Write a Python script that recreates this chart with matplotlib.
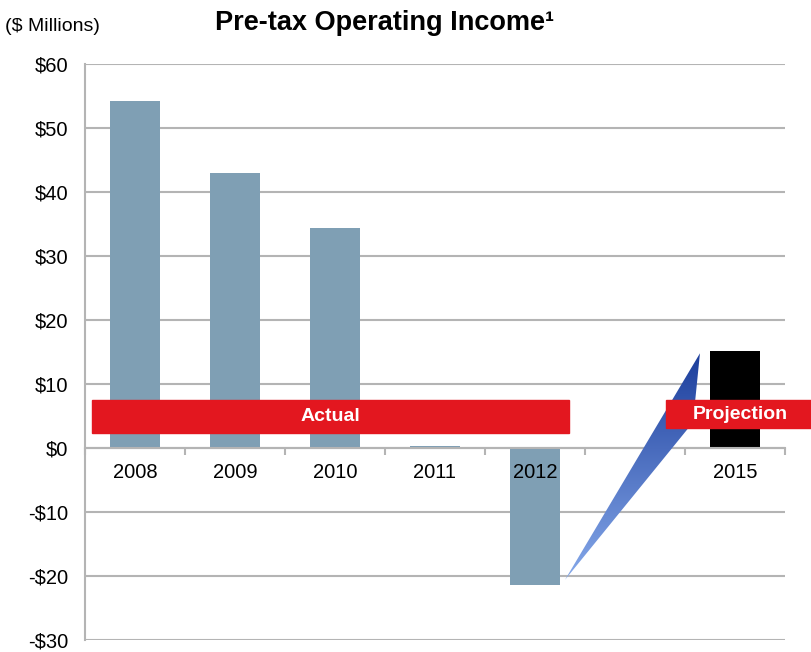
import numpy as np
import matplotlib.pyplot as plt
from matplotlib.patches import Rectangle, Polygon
from matplotlib.colors import LinearSegmentedColormap

years = ['2008', '2009', '2010', '2011', '2012', '', '2015']
income = [54.2, 43.0, 34.4, 0.3, -21.4, np.nan, 15.2]
bar_colors = ['#7f9fb4'] * 6 + ['#000000']
yticks = [60, 50, 40, 30, 20, 10, 0, -10, -20, -30]
ytick_labels = ['$60', '$50', '$40', '$30', '$20', '$10', '$0', '-$10', '-$20', '-$30']

plt.rcParams['font.family'] = ['Liberation Sans', 'DejaVu Sans']

fig = plt.figure(figsize=(8.12, 6.52), dpi=100)
ax = fig.add_axes([0.1047, 0.0184, 0.862, 0.8834])

x = np.arange(len(years))
ax.bar(x, income, width=0.5, color=bar_colors, zorder=2)

ax.set_xlim(-0.5, 6.5)
ax.set_ylim(-30, 60)
ax.set_yticks(yticks)
ax.set_yticklabels(ytick_labels, fontsize=14.5)
ax.tick_params(axis='y', length=0, pad=12)
ax.yaxis.grid(True, color='#b4b4b4', lw=1.5, zorder=0)
ax.set_axisbelow(True)

# zero line with tick marks between categories
ax.spines['bottom'].set_position(('data', 0))
ax.set_xticks(np.arange(-0.5, 7.0, 1.0))
ax.set_xticklabels([])
ax.tick_params(axis='x', length=5, color='#b4b4b4', width=1.5, direction='out')
for side in ['top', 'right']:
    ax.spines[side].set_visible(False)
for side in ['bottom', 'left']:
    ax.spines[side].set_color('#b4b4b4')
    ax.spines[side].set_linewidth(1.5)

# category labels drawn as text so 2012 shows on top of its bar
for xi, yr in zip(x, years):
    ax.text(xi, -3.8, yr, fontsize=14.5, ha='center', va='center', zorder=6)

# blue wedge from 2012 up to 2015, shaded light -> dark
wedge = Polygon([(4.3, -20.6), (5.65, 14.8), (5.58, 4.0)], closed=True,
                facecolor='none', edgecolor='none', zorder=3)
ax.add_patch(wedge)
grad = np.linspace(0, 1, 256).reshape(-1, 1)
img = ax.imshow(grad, extent=(4.3, 5.65, -20.6, 14.8), origin='lower',
                cmap=LinearSegmentedColormap.from_list('w', ['#86a9ea', '#1c3e9c']),
                aspect='auto', zorder=3)
img.set_clip_path(wedge)

# red banners
ax.add_patch(Rectangle((-0.43, 2.3), 4.77, 5.2, color='#e3171f', zorder=4))
ax.text(1.95, 4.9, 'Actual', color='white', fontsize=14, fontweight='bold',
        ha='center', va='center', zorder=6)
ax.add_patch(Rectangle((5.31, 3.1), 1.5, 4.4, color='#e3171f', zorder=4,
                       clip_on=False))
ax.text(6.05, 5.2, 'Projection', color='white', fontsize=14, fontweight='bold',
        ha='center', va='center', zorder=6)

fig.text(0.474, 0.965, 'Pre-tax Operating Income¹', fontsize=19.5,
         fontweight='bold', ha='center', va='center')
fig.text(0.006, 0.96, '($ Millions)', fontsize=14, ha='left', va='center')

fig.savefig('out.png', dpi=100)
